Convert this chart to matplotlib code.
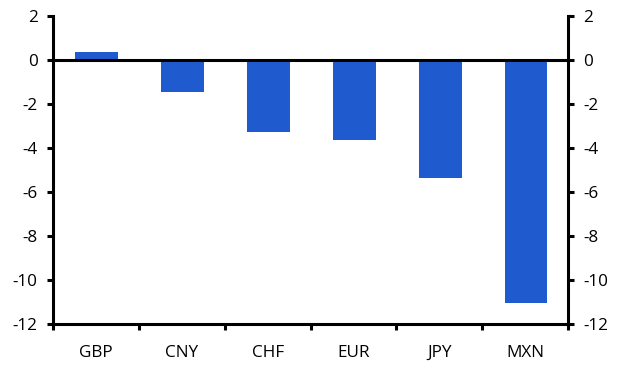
import matplotlib as mpl
import matplotlib.pyplot as plt
import numpy as np

mpl.rcParams["font.family"] = "Open Sans"
mpl.rcParams["font.size"] = 12.3

currencies = ["GBP", "CNY", "CHF", "EUR", "JPY", "MXN"]
values = [0.35, -1.45, -3.27, -3.64, -5.36, -11.05]
yticks = [2, 0, -2, -4, -6, -8, -10, -12]

fig = plt.figure(figsize=(6.27, 3.75), dpi=100)
ax = fig.add_axes([0.0845, 0.136, 0.8215, 0.821])

x = np.arange(len(currencies))
ax.bar(x + 0.01, values, width=0.5, color="#1f5bcf", zorder=2)
ax.axhline(0, color="black", lw=2.2, zorder=3)

ax.set_xlim(-0.5, len(currencies) - 0.5)
ax.set_ylim(-12, 2)
ax.set_yticks(yticks)
ax.set_yticklabels([str(t) for t in yticks])

ax.set_xticks(x)
ax.set_xticklabels(currencies)
ax.set_xticks(np.arange(-0.5, len(currencies)), minor=True)
ax.tick_params(axis="x", which="major", length=0, pad=15)
ax.tick_params(axis="x", which="minor", length=4, width=2.2, direction="out")
ax.tick_params(axis="y", length=4, width=2.2, pad=7, left=True, right=True,
               labelleft=True, labelright=True)

for side in ["left", "right", "bottom"]:
    ax.spines[side].set_linewidth(2.2)
ax.spines["top"].set_visible(False)

fig.savefig("out.png", dpi=100)
